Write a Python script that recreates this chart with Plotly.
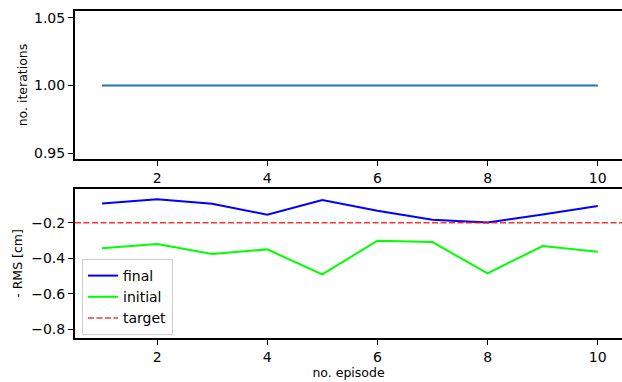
import plotly.graph_objects as go
from plotly.subplots import make_subplots

episodes = [1, 2, 3, 4, 5, 6, 7, 8, 9, 10]
iterations = [1, 1, 1, 1, 1, 1, 1, 1, 1, 1]
final_rms = [-0.091, -0.068, -0.093, -0.155, -0.072, -0.132, -0.183, -0.198, -0.153, -0.106]
initial_rms = [-0.343, -0.320, -0.376, -0.350, -0.491, -0.301, -0.309, -0.485, -0.331, -0.363]
target_rms = -0.2

FONT = "DejaVu Sans"
TITLE_SIZE = 12.5

fig = make_subplots(rows=2, cols=1)

fig.add_trace(go.Scatter(x=episodes, y=iterations, mode="lines",
                         line=dict(color="#1f77b4", width=2), showlegend=False), row=1, col=1)
fig.add_trace(go.Scatter(x=episodes, y=final_rms, mode="lines", name="final",
                         line=dict(color="#0000ff", width=2)), row=2, col=1)
fig.add_trace(go.Scatter(x=episodes, y=initial_rms, mode="lines", name="initial",
                         line=dict(color="#00ff00", width=2)), row=2, col=1)
fig.add_trace(go.Scatter(x=[0.51, 10.44], y=[target_rms, target_rms], mode="lines", name="target",
                         line=dict(color="rgba(255,0,0,0.8)", width=1.6, dash="6px,2.5px")), row=2, col=1)

axis_common = dict(showline=True, linecolor="black", linewidth=2, ticks="outside",
                   ticklen=5, tickwidth=1, tickcolor="black", showgrid=False, zeroline=False,
                   automargin=False,
                   tickfont=dict(family=FONT, size=14, color="black"))

H = 382
top, bottom = 11, 44
plot_h = H - top - bottom

def frac(py):
    return (H - bottom - py) / plot_h

fig.update_xaxes(**axis_common, mirror=True, range=[0.51, 10.44], tickvals=[2, 4, 6, 8, 10])
fig.update_xaxes(domain=[0, 1], row=1, col=1)
fig.update_xaxes(domain=[0, 1], row=2, col=1,
                 title=dict(text="no. episode", font=dict(family=FONT, size=TITLE_SIZE, color="black"), standoff=2))

fig.update_yaxes(**axis_common)
fig.update_yaxes(row=1, col=1, domain=[frac(159), frac(11)], range=[0.9456, 1.055],
                 tickvals=[0.95, 1.00, 1.05], tickformat=".2f",
                 title=dict(text="no. iterations", font=dict(family=FONT, size=TITLE_SIZE, color="black"), standoff=4))
fig.update_yaxes(row=2, col=1, domain=[frac(338), frac(189)], range=[-0.849, -0.010],
                 tickvals=[-0.8, -0.6, -0.4, -0.2], tickformat=".1f",
                 title=dict(text="- RMS [cm]", font=dict(family=FONT, size=TITLE_SIZE, color="black"), standoff=6))

fig.update_layout(
    width=622, height=H,
    margin=dict(l=75, r=0, t=top, b=bottom),
    plot_bgcolor="white", paper_bgcolor="white",
    font=dict(family=FONT, size=14, color="black"),
    legend=dict(x=0.0128, y=(338 - 259) / plot_h, xanchor="left", yanchor="top",
                bgcolor="rgba(255,255,255,0.8)", bordercolor="#cccccc", borderwidth=1,
                itemwidth=30,
                font=dict(family=FONT, size=14, color="black")),
)

fig.write_html("out.html", config={"displayModeBar": False},
               post_script="document.body.style.margin='0';document.body.style.overflow='hidden';")
